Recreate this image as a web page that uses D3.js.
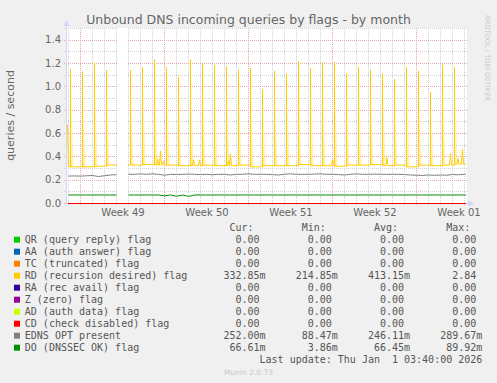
<!DOCTYPE html>
<html><head><meta charset="utf-8">
<script src="https://cdn.jsdelivr.net/npm/d3@7"></script>
<style>
html,body{margin:0;padding:0;background:#F0F0F0;overflow:hidden;}
svg{display:block;}
text{font-family:"DejaVu Sans",sans-serif;fill:#666666;}
.mono{font-family:"DejaVu Sans Mono",monospace;font-size:10px;fill:#555555;white-space:pre;}
</style></head><body>
<svg id="c" width="497" height="383"></svg>
<script>
// ---------- DATA ----------
const title = "Unbound DNS incoming queries by flags - by month";
const yLabel = "queries / second";
const yTicks = [0, 0.2, 0.4, 0.6, 0.8, 1.0, 1.2, 1.4];
const yMinor = [0.1, 0.3, 0.5, 0.7, 0.9, 1.1, 1.3, 1.5];
const yMax = 1.5;
const weekLabels = ["Week 49", "Week 50", "Week 51", "Week 52", "Week 01"];
const weekLabelTimes = ["2025-12-04T12:00:00Z", "2025-12-11T12:00:00Z", "2025-12-18T12:00:00Z", "2025-12-25T12:00:00Z", "2026-01-01T12:00:00Z"];
const timeDomain = ["2025-11-29T21:00:00Z", "2026-01-02T05:00:00Z"];
const gap = ["2025-12-04T01:30:00Z", "2025-12-04T22:30:00Z"];

// RD (recursion desired): one daily spike at 04:00
const spikeDays = ["2025-11-30","2025-12-01","2025-12-02","2025-12-03","2025-12-04","2025-12-05","2025-12-06",
  "2025-12-07","2025-12-08","2025-12-09","2025-12-10","2025-12-11","2025-12-12","2025-12-13","2025-12-14",
  "2025-12-15","2025-12-16","2025-12-17","2025-12-18","2025-12-19","2025-12-20","2025-12-21","2025-12-22",
  "2025-12-23","2025-12-24","2025-12-25","2025-12-26","2025-12-27","2025-12-28","2025-12-29","2025-12-30",
  "2025-12-31","2026-01-01"];
const spikeTime = "T04:00:00Z";
const rdPeaks = [1.149,1.126,1.203,1.14,null,1.14,1.166,1.23,1.166,1.08,1.23,1.194,1.183,1.17,1.14,
  1.154,0.974,1.131,1.11,1.214,1.157,1.209,1.209,1.114,1.166,1.143,1.109,1.063,1.166,1.131,0.954,1.186,1.166];
// baseline level between spikes (index 0 = before first spike)
const rdBase = [0.31,0.31,0.31,0.315,0.325,0.33,0.325,0.33,0.325,0.325,0.32,0.32,0.325,0.32,0.32,0.325,0.31,
  0.32,0.32,0.32,0.33,0.32,0.32,0.315,0.325,0.325,0.33,0.32,0.325,0.31,0.325,0.32,0.325,0.333];
const rdBumps = [["2025-12-07T10:00:00Z",0.38],["2025-12-07T16:00:00Z",0.446],["2025-12-07T22:00:00Z",0.36],
  ["2025-12-10T10:00:00Z",0.37],["2025-12-10T22:00:00Z",0.37],["2025-12-13T08:00:00Z",0.36],
  ["2025-12-13T12:00:00Z",0.42],["2025-12-22T00:00:00Z",0.37],["2025-12-26T13:00:00Z",0.39],
  ["2025-12-31T20:00:00Z",0.426],["2026-01-01T11:00:00Z",0.38],["2026-01-01T20:00:00Z",0.46]];
const rdStart = ["2025-11-29T22:00:00Z", 0.67];
const rdEnd = ["2026-01-02T03:00:00Z", 0.333];

// EDNS and DO: 12-hourly samples from sampleStart, last one at sampleEnd
const sampleStart = "2025-11-30T00:00:00Z";
const sampleEnd = "2026-01-02T03:00:00Z";
const ednsValues = [0.231,0.232,0.231,0.233,0.236,0.227,0.234,0.240,0.243,null,
  0.246,0.246,0.250,0.246,0.250,0.246,0.238,0.246,0.244,0.246,
  0.248,0.246,0.244,0.246,0.242,0.246,0.246,0.240,0.246,0.246,
  0.250,0.246,0.246,0.246,0.243,0.240,0.246,0.250,0.246,0.246,
  0.246,0.248,0.250,0.246,0.246,0.244,0.240,0.246,0.250,0.246,
  0.246,0.248,0.246,0.246,0.246,0.246,0.244,0.240,0.238,0.236,
  0.240,0.237,0.240,0.238,0.244,0.242,0.246,0.246];
const doValues = [0.0686,0.0686,0.0686,0.0686,0.0686,0.0686,0.0686,0.0686,0.0686,null,
  0.0686,0.0686,0.0686,0.0686,0.0686,0.0686,0.062,0.0686,0.058,0.0686,
  0.057,0.0686,0.0686,0.0686,0.0686,0.0686,0.0686,0.0686,0.0686,0.0686,
  0.0686,0.0686,0.0686,0.0686,0.0686,0.0686,0.0686,0.0686,0.0686,0.0686,
  0.0686,0.0686,0.0686,0.0686,0.0686,0.0686,0.0686,0.0686,0.0686,0.0686,
  0.0686,0.0686,0.0686,0.0686,0.0686,0.0686,0.0686,0.0686,0.0686,0.0686,
  0.0686,0.0686,0.0686,0.0686,0.0686,0.0686,0.0686,0.0666];
const zeroValues = [0, 0]; // at rdStart / rdEnd times

const seriesNames = ["QR (query reply) flag","AA (auth answer) flag","TC (truncated) flag","RD (recursion desired) flag",
  "RA (rec avail) flag","Z (zero) flag","AD (auth data) flag","CD (check disabled) flag","EDNS OPT present","DO (DNSSEC OK) flag"];
const seriesColors = ["#00CC00","#0066B3","#FF8000","#FFCC00","#330099","#990099","#CCFF00","#FF0000","#808080","#008F00"];
const statCur = [0,0,0,0.33285,0,0,0,0,0.252,0.06661];
const statMin = [0,0,0,0.21485,0,0,0,0,0.08847,0.00386];
const statAvg = [0,0,0,0.41315,0,0,0,0,0.24611,0.06645];
const statMax = [0,0,0,2.84,0,0,0,0,0.28967,0.08992];
const statHeaders = ["Cur:","Min:","Avg:","Max:"];
const lastUpdate = "Last update: Thu Jan  1 03:40:00 2026";
const footer = "Munin 2.0.73";
const watermark = "RRDTOOL / TOBI OETIKER";

// ---------- DRAW ----------
const D = s => new Date(s);
const svg = d3.select("#c");
const P = {left:67, right:467, top:28, bottom:203};
svg.append("rect").attr("width",497).attr("height",383).attr("fill","#F0F0F0");
const x = d3.scaleUtc().domain(timeDomain.map(D)).range([P.left, P.right]);
const y = d3.scaleLinear().domain([0, yMax]).range([P.bottom, P.top]);
const snapX = v => Math.floor(v) + 0.5;
const snapY = v => Math.round(v) + 0.5;

svg.append("rect").attr("x",P.left).attr("y",P.top).attr("width",P.right-P.left)
  .attr("height",P.bottom-P.top).attr("fill","#FFFFFF");

const grid = svg.append("g").attr("stroke-width",1).attr("stroke-dasharray","1,1").attr("fill","none");
const days = d3.utcDay.range(x.domain()[0], x.domain()[1]);
const mondays = d3.utcMonday.range(x.domain()[0], x.domain()[1]);
const isMon = d => d.getUTCDay() === 1;
const minorCol = "#d0d0d0", majorCol = "#eaa6a6";
grid.selectAll("line.vmin").data(days.filter(d=>!isMon(d))).join("line")
  .attr("x1",d=>snapX(x(d))).attr("x2",d=>snapX(x(d))).attr("y1",P.top).attr("y2",P.bottom+3)
  .attr("stroke",minorCol);
grid.selectAll("line.hmin").data(yMinor).join("line")
  .attr("x1",P.left-3).attr("x2",P.right).attr("y1",d=>snapY(y(d))).attr("y2",d=>snapY(y(d)))
  .attr("stroke",minorCol);
grid.selectAll("line.vmaj").data(mondays).join("line")
  .attr("x1",d=>snapX(x(d))).attr("x2",d=>snapX(x(d))).attr("y1",P.top).attr("y2",P.bottom+3)
  .attr("stroke",majorCol);
grid.selectAll("line.hmaj").data(yTicks).join("line")
  .attr("x1",P.left-3).attr("x2",P.right).attr("y1",d=>snapY(y(d))).attr("y2",d=>snapY(y(d)))
  .attr("stroke",majorCol);

// gap (no data)
svg.append("rect").attr("x",x(D(gap[0]))).attr("y",P.top).attr("width",x(D(gap[1]))-x(D(gap[0])))
  .attr("height",P.bottom-P.top).attr("fill","#FFFFFF");

// axes
const axisCol = "#CFD6F8";
svg.append("line").attr("x1",66.5).attr("x2",66.5).attr("y1",P.bottom).attr("y2",24).attr("stroke",axisCol);
svg.append("path").attr("d","M63.5,26L66.5,20L69.5,26Z").attr("fill",axisCol);
svg.append("line").attr("x1",P.left).attr("x2",470).attr("y1",203.5).attr("y2",203.5).attr("stroke",axisCol);
svg.append("path").attr("d","M468,200.5L474,203.5L468,206.5Z").attr("fill",axisCol);

const yAxis = d3.axisLeft(y).tickValues(yTicks).tickFormat(d3.format(".1f")).tickSize(0).tickPadding(6);
const gy = svg.append("g").attr("transform",`translate(${P.left},0)`).call(yAxis);
gy.select(".domain").remove();
gy.selectAll("text").attr("fill","#666666").style("font-family","DejaVu Sans").style("font-size","10px");

const xAxis = d3.axisBottom(x).tickValues(weekLabelTimes.map(D)).tickFormat((d,i)=>weekLabels[i]).tickSize(0).tickPadding(5.6);
const gx = svg.append("g").attr("transform",`translate(0,${P.bottom})`).call(xAxis);
gx.select(".domain").remove();
gx.selectAll("text").attr("fill","#666666").style("font-family","DejaVu Sans").style("font-size","10px");

// series
const line = d3.line().defined(d=>d.v!=null).x(d=>x(d.t)).y(d=>y(d.v));
const H = 3600e3;
const spikeTimes = spikeDays.map(d=>D(d+spikeTime));
function segIndex(t){ let n=0; spikeTimes.forEach(s=>{ if(s<=t) n++; }); return n; }

// RD points
const rdPts = [];
rdPts.push({t:D(rdStart[0]), v:rdStart[1]});
rdPts.push({t:new Date(+D(rdStart[0])+2*H), v:rdBase[0]});
spikeTimes.forEach((ts,k)=>{
  if (rdPeaks[k]==null) return;
  rdPts.push({t:new Date(+ts-0.2*H), v:rdBase[k]});
  rdPts.push({t:ts, v:rdPeaks[k]});
  rdPts.push({t:new Date(+ts+0.2*H), v:rdBase[k+1]});
});
rdBumps.forEach(([s,v])=>{
  const t=D(s), b=rdBase[segIndex(t)];
  rdPts.push({t:new Date(+t-2*H), v:b}); rdPts.push({t, v}); rdPts.push({t:new Date(+t+2*H), v:b});
});
const g0=D(gap[0]), g1=D(gap[1]);
rdPts.push({t:g0, v:rdBase[segIndex(g0)]});
rdPts.push({t:new Date((+g0 + +g1)/2), v:null});
rdPts.push({t:g1, v:rdBase[segIndex(g1)+1]});
rdPts.push({t:D(rdEnd[0]), v:rdEnd[1]});
rdPts.sort((a,b)=>a.t-b.t);

// sample series
const sampleTimes = ednsValues.map((_,i)=> i===ednsValues.length-1 ? D(sampleEnd) : d3.utcHour.offset(D(sampleStart), 12*i));
const ednsPts = ednsValues.map((v,i)=>({t:sampleTimes[i], v}));
const doPts = doValues.map((v,i)=>({t:sampleTimes[i], v}));
const zeroPts = zeroValues.map((v,i)=>({t:D(i===0?rdStart[0]:rdEnd[0]), v}));

// gradient for spike decay
const defs = svg.append("defs");
const grad = defs.append("linearGradient").attr("id","decay").attr("x1",0).attr("y1",0).attr("x2",0).attr("y2",1);
grad.append("stop").attr("offset","0%").attr("stop-color","#FFCC00").attr("stop-opacity",0.0);
grad.append("stop").attr("offset","100%").attr("stop-color","#FFCC00").attr("stop-opacity",0.3);

const lines = svg.append("g").attr("fill","none");
seriesNames.forEach((name,i)=>{
  let pts, zero=false;
  if (i===3) {
    lines.selectAll("path.decay").data(spikeTimes.map((ts,k)=>({ts,k})).filter(d=>rdPeaks[d.k]!=null)).join("path")
      .attr("class","decay")
      .attr("d",d=>{
        const p=rdPeaks[d.k], b=rdBase[d.k+1];
        return `M${x(new Date(+d.ts+1*H))},${y(p*0.9)}L${x(new Date(+d.ts+6*H))},${y(b)}L${x(new Date(+d.ts+1*H))},${y(b)}Z`;
      }).attr("fill","url(#decay)").attr("stroke","none");
    pts = rdPts;
  } else if (i===8) pts = ednsPts;
  else if (i===9) pts = doPts;
  else { pts = zeroPts; zero=true; }
  const p = lines.append("path").attr("d",line(pts)).attr("stroke",seriesColors[i])
    .attr("stroke-width", 1).attr("stroke-linejoin","miter").attr("stroke-miterlimit",1);
  if (zero) p.attr("shape-rendering","crispEdges");
});

// titles
svg.append("text").attr("x",248.5).attr("y",24).attr("text-anchor","middle").style("font-size","12.5px").text(title);
svg.append("text").attr("transform",`translate(14,${(P.top+P.bottom)/2}) rotate(-90)`).attr("text-anchor","middle")
  .style("font-size","11px").text(yLabel);
svg.append("text").attr("transform","translate(485,15) rotate(90)").attr("textLength",86).attr("lengthAdjust","spacingAndGlyphs")
  .style("font-size","7px").style("fill","#c8c8c8").text(watermark);

// legend
const cw = 6.02, x0 = 24.8, rowBase = 243.3, rowStep = 12;
const fieldCols = [40, 52, 64, 76];
statHeaders.forEach((h,j)=>{
  svg.append("text").attr("class","mono").attr("x",x0+(fieldCols[j]-2)*cw).attr("y",rowBase-rowStep)
    .attr("text-anchor","end").text(h);
});
function fmt(v){
  if (v===0) return ["0.00",""];
  if (Math.abs(v)<1) return [(Math.round(v*1e5)/100).toFixed(2),"m"];
  return [v.toFixed(2),""];
}
const stats=[statCur,statMin,statAvg,statMax];
seriesNames.forEach((name,i)=>{
  const yb = rowBase + i*rowStep;
  svg.append("rect").attr("x",14).attr("y",yb-6.6).attr("width",6).attr("height",6).attr("fill",seriesColors[i]);
  svg.append("text").attr("class","mono").attr("x",x0).attr("y",yb).text(name);
  stats.forEach((arr,j)=>{
    const [n,s]=fmt(arr[i]);
    const xe = x0+(fieldCols[j]-1)*cw;
    svg.append("text").attr("class","mono").attr("x",xe).attr("y",yb).attr("text-anchor","end").text(n);
    if (s) svg.append("text").attr("class","mono").attr("x",xe).attr("y",yb).text(s);
  });
});
svg.append("text").attr("class","mono").attr("xml:space","preserve").attr("x",x0+76*cw).attr("y",rowBase+10*rowStep)
  .attr("text-anchor","end").text(lastUpdate);
svg.append("text").attr("x",248.5).attr("y",375).attr("text-anchor","middle").style("font-size","7.5px")
  .style("fill","#c8c8c8").text(footer);
</script>
</body></html>
